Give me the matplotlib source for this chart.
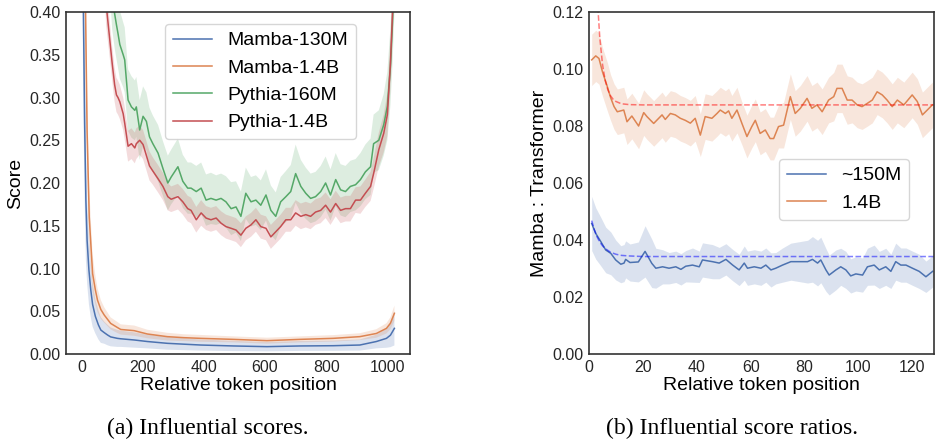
import matplotlib
matplotlib.use("Agg")
import matplotlib.pyplot as plt
import numpy as np

plt.rcParams["font.family"] = ["Liberation Sans", "DejaVu Sans"]

# ---- (a) influential scores ----
pythia_x = [0, 30, 60, 80, 90, 100, 108, 114, 119, 125, 136, 141, 152, 163, 174, 179, 190, 201, 212, 222,
            233, 250, 266, 282, 293, 315, 331, 347, 358, 375, 391, 407, 423, 440, 456, 472, 489, 505, 521, 537,
            554, 570, 586, 603, 619, 635, 651, 668, 684, 700, 717, 733, 749, 765, 782, 798, 814, 831, 847, 863,
            879, 896, 912, 928, 945, 955, 972, 988, 1000, 1010, 1017, 1023]
pythia160 = [2.5, 1.2, 0.75, 0.56, 0.48, 0.42, 0.398, 0.385, 0.375, 0.362, 0.35, 0.344, 0.297, 0.289, 0.285, 0.289,
             0.262, 0.278, 0.272, 0.254, 0.246, 0.235, 0.217, 0.200, 0.207, 0.219, 0.202, 0.194, 0.194, 0.190,
             0.194, 0.180, 0.182, 0.180, 0.182, 0.178, 0.170, 0.172, 0.161, 0.188, 0.178, 0.180, 0.174, 0.186,
             0.168, 0.161, 0.178, 0.184, 0.190, 0.211, 0.196, 0.188, 0.182, 0.184, 0.190, 0.200, 0.186, 0.204,
             0.192, 0.190, 0.196, 0.198, 0.204, 0.213, 0.219, 0.246, 0.250, 0.268, 0.29, 0.336, 0.39, 0.46]
pythia14 = [2.0, 1.0, 0.6, 0.41, 0.375, 0.34, 0.315, 0.303, 0.30, 0.295, 0.281, 0.27, 0.243, 0.246, 0.241, 0.246,
            0.250, 0.245, 0.232, 0.220, 0.214, 0.205, 0.196, 0.184, 0.181, 0.184, 0.178, 0.170, 0.168, 0.157,
            0.165, 0.159, 0.157, 0.159, 0.153, 0.149, 0.147, 0.145, 0.139, 0.147, 0.151, 0.157, 0.149, 0.147,
            0.137, 0.143, 0.149, 0.157, 0.157, 0.165, 0.161, 0.163, 0.161, 0.166, 0.168, 0.174, 0.166, 0.176,
            0.168, 0.170, 0.170, 0.180, 0.180, 0.188, 0.196, 0.211, 0.239, 0.258, 0.28, 0.34, 0.40, 0.46]
pythia160_err = [0.3, 0.1, 0.06, 0.05, 0.045, 0.04, 0.04, 0.04, 0.04, 0.04, 0.038, 0.038, 0.036, 0.036, 0.035,
                 0.035, 0.035, 0.035, 0.034, 0.034, 0.033, 0.033, 0.032, 0.032, 0.032, 0.033, 0.031, 0.03, 0.03,
                 0.03, 0.03, 0.03, 0.03, 0.029, 0.029, 0.03, 0.031, 0.03, 0.029, 0.03, 0.029, 0.029, 0.029, 0.03,
                 0.029, 0.028, 0.029, 0.03, 0.031, 0.034, 0.031, 0.03, 0.029, 0.029, 0.03, 0.031, 0.03, 0.031,
                 0.03, 0.03, 0.03, 0.03, 0.031, 0.032, 0.033, 0.034, 0.035, 0.036, 0.04, 0.045, 0.05, 0.06]
pythia14_err = [0.2, 0.06, 0.03, 0.025, 0.022, 0.02, 0.02, 0.02, 0.02, 0.02, 0.019, 0.019, 0.018, 0.018, 0.018,
                0.018, 0.017, 0.017, 0.017, 0.017, 0.016, 0.016, 0.016, 0.016, 0.015, 0.015, 0.015, 0.015, 0.015,
                0.015, 0.015, 0.014, 0.014, 0.014, 0.014, 0.014, 0.014, 0.014, 0.014, 0.014, 0.014, 0.014, 0.014,
                0.014, 0.014, 0.014, 0.014, 0.014, 0.014, 0.015, 0.015, 0.015, 0.015, 0.015, 0.015, 0.015, 0.015,
                0.015, 0.015, 0.015, 0.015, 0.015, 0.016, 0.016, 0.017, 0.018, 0.02, 0.022, 0.025, 0.03, 0.035, 0.04]

mamba130_x = [0, 3, 6, 10, 14, 18, 24, 30, 36, 45, 55, 63, 74, 85, 95, 117, 128, 172, 215, 280, 334, 389, 497,
              606, 714, 823, 910, 964, 997, 1010, 1023]
mamba130 = [0.9, 0.55, 0.40, 0.27, 0.18, 0.133, 0.098, 0.075, 0.058, 0.044, 0.034, 0.028, 0.025, 0.0222, 0.020,
            0.0183, 0.0178, 0.0164, 0.0146, 0.0125, 0.0115, 0.0105, 0.0094, 0.0086, 0.0094, 0.0097, 0.0105,
            0.0146, 0.0183, 0.022, 0.030]
mamba130_err = [0.2, 0.15, 0.12, 0.09, 0.07, 0.05, 0.04, 0.032, 0.026, 0.02, 0.017, 0.015, 0.013, 0.012, 0.011,
                0.010, 0.0095, 0.009, 0.008, 0.0075, 0.007, 0.0065, 0.006, 0.0055, 0.0058, 0.006, 0.0065, 0.008,
                0.011, 0.014, 0.02]

mamba14_x = [0, 6, 13, 18, 25, 30, 36, 45, 52, 63, 74, 95, 117, 128, 172, 215, 280, 334, 389, 497, 606, 714,
             823, 910, 964, 997, 1010, 1023]
mamba14 = [1.2, 0.65, 0.40, 0.26, 0.16, 0.13, 0.094, 0.075, 0.063, 0.052, 0.0456, 0.0358, 0.031, 0.0287, 0.0273,
           0.0234, 0.0203, 0.0191, 0.0183, 0.0171, 0.0156, 0.0171, 0.0183, 0.0203, 0.024, 0.030, 0.036, 0.0476]
mamba14_err = [0.15, 0.1, 0.07, 0.05, 0.035, 0.028, 0.022, 0.017, 0.014, 0.011, 0.009, 0.007, 0.0065, 0.006,
               0.006, 0.005, 0.0045, 0.004, 0.004, 0.0035, 0.0035, 0.0035, 0.0038, 0.004, 0.005, 0.006, 0.007, 0.009]

# ---- (b) score ratios ----
ratio150_x = [1, 2.5, 4.4, 6.2, 8.1, 9.9, 11.8, 13, 13.6, 15.2, 18.3, 20.8, 23.3, 24.8, 27.3, 29.7, 32.2, 34.1,
              35.9, 38.4, 40.9, 42.1, 45.8, 48.3, 50.8, 53.3, 55.7, 57.6, 58.8, 61.3, 63.8, 65.6, 67.5, 69.3,
              71.8, 74.9, 78, 81.1, 82.9, 84.8, 86, 87.9, 89.1, 91.6, 93.4, 95.3, 97.1, 99, 101.5, 103.3, 105.8,
              107.7, 110.1, 112, 113.8, 115.7, 117.6, 120, 122.5, 125, 127.5]
ratio150 = [0.0458, 0.0423, 0.0394, 0.0365, 0.0353, 0.033, 0.0315, 0.0319, 0.0332, 0.0321, 0.0323, 0.036, 0.0318,
            0.0301, 0.0306, 0.0301, 0.0306, 0.0297, 0.0308, 0.0312, 0.0306, 0.033, 0.0324, 0.0319, 0.0332, 0.0312,
            0.0295, 0.0319, 0.0301, 0.0306, 0.0301, 0.0312, 0.0295, 0.0301, 0.0312, 0.0324, 0.0324, 0.0324,
            0.0332, 0.0319, 0.033, 0.0295, 0.0277, 0.0295, 0.0306, 0.0295, 0.0274, 0.0281, 0.0277, 0.0306,
            0.0312, 0.0295, 0.0306, 0.029, 0.0324, 0.0312, 0.0312, 0.0301, 0.029, 0.0271, 0.029]
ratio150_err = [0.0095, 0.009, 0.0085, 0.008, 0.0075, 0.007, 0.0065, 0.0065, 0.0065, 0.0065, 0.007, 0.009, 0.0085,
                0.007, 0.006, 0.0055, 0.0055, 0.0055, 0.0055, 0.006, 0.0055, 0.006, 0.006, 0.0055, 0.0055, 0.0055,
                0.0055, 0.006, 0.006, 0.006, 0.006, 0.006, 0.006, 0.0055, 0.006, 0.0065, 0.007, 0.0075, 0.008,
                0.008, 0.008, 0.0075, 0.007, 0.007, 0.0065, 0.0065, 0.006, 0.006, 0.006, 0.0065, 0.007, 0.0065,
                0.0065, 0.006, 0.0065, 0.006, 0.006, 0.006, 0.006, 0.0055, 0.0055]

ratio14_x = [1, 2.5, 3.7, 5, 6.8, 8, 9.3, 10.5, 12.9, 14.1, 15.9, 18.4, 20.3, 21.5, 24, 27.1, 28.3, 30.2, 32, 33.9,
             35.7, 37.6, 39.4, 41.3, 43.1, 45.6, 47.5, 48.7, 50.6, 51.8, 53, 54.9, 56.7, 58.6, 60.4, 61.7, 63.5,
             65.4, 67.2, 68.5, 70.3, 72.2, 74.7, 76.5, 78.4, 80.9, 82.7, 84.6, 86.5, 88.9, 90.8, 92, 93.9, 95.8,
             97.6, 99.5, 101.3, 103.2, 105.1, 106.9, 108.8, 110.6, 112.5, 114.4, 116.8, 119.9, 121.8, 123.7,
             125.5, 127.4]
ratio14 = [0.1032, 0.1046, 0.1037, 0.099, 0.0938, 0.090, 0.0868, 0.085, 0.0856, 0.0815, 0.0835, 0.080, 0.0847,
           0.0833, 0.0809, 0.0839, 0.0823, 0.0844, 0.0839, 0.0827, 0.082, 0.081, 0.0827, 0.0768, 0.0833, 0.0827,
           0.0844, 0.0856, 0.0844, 0.0853, 0.0827, 0.0856, 0.081, 0.0763, 0.0798, 0.082, 0.0774, 0.0786, 0.0756,
           0.0756, 0.0798, 0.0803, 0.0903, 0.0844, 0.0862, 0.0897, 0.0862, 0.0874, 0.085, 0.0891, 0.0903, 0.0932,
           0.0932, 0.0891, 0.0891, 0.0874, 0.0868, 0.0879, 0.0891, 0.092, 0.0909, 0.0891, 0.0868, 0.0891, 0.0874,
           0.0909, 0.0886, 0.0839, 0.0856, 0.0874]
ratio14_err = [0.009, 0.009, 0.009, 0.0085, 0.0085, 0.008, 0.008, 0.008, 0.008, 0.008, 0.008, 0.008, 0.008, 0.008,
               0.008, 0.008, 0.008, 0.008, 0.008, 0.008, 0.008, 0.008, 0.008, 0.0075, 0.008, 0.008, 0.008, 0.008,
               0.008, 0.008, 0.008, 0.008, 0.0075, 0.0075, 0.0075, 0.0075, 0.0075, 0.0075, 0.0075, 0.0075, 0.0075,
               0.008, 0.008, 0.008, 0.008, 0.008, 0.008, 0.008, 0.008, 0.008, 0.0085, 0.0085, 0.0085, 0.0085,
               0.008, 0.008, 0.008, 0.008, 0.008, 0.008, 0.008, 0.008, 0.008, 0.008, 0.008, 0.008, 0.008, 0.008,
               0.008, 0.008]

# dashed fitted curves
fit14_x = [1, 2, 3, 4, 5, 6, 7, 8, 9, 10, 12, 15, 20, 128]
fit14 = [0.193, 0.151, 0.126, 0.111, 0.1017, 0.0960, 0.0927, 0.0906, 0.0893, 0.0886, 0.0878, 0.0875, 0.0874, 0.0874]
fit150_x = [1, 2, 3, 4, 5, 6, 8, 10, 12, 15, 20, 128]
fit150 = [0.0468, 0.0435, 0.0411, 0.0393, 0.0380, 0.0370, 0.0357, 0.0350, 0.0346, 0.0344, 0.0342, 0.0342]

c_blue, c_orange, c_green, c_red = "#4c72b0", "#dd8452", "#55a868", "#c44e52"

fig = plt.figure(figsize=(9.36, 4.4), dpi=100)
ax1 = fig.add_axes([66 / 936, 1 - 354 / 440, 344 / 936, 342 / 440])
ax2 = fig.add_axes([589 / 936, 1 - 354 / 440, 345 / 936, 342 / 440])


def band(ax, x, y, e, color, label):
    x = np.array(x); y = np.array(y); e = np.array(e)
    ax.fill_between(x, y - e, y + e, color=color, alpha=0.2, lw=0)
    ax.plot(x, y, color=color, lw=1.1, label=label)


band(ax1, mamba130_x, mamba130, mamba130_err, c_blue, "Mamba-130M")
band(ax1, mamba14_x, mamba14, mamba14_err, c_orange, "Mamba-1.4B")
band(ax1, pythia_x, pythia160, pythia160_err, c_green, "Pythia-160M")
band(ax1, pythia_x, pythia14, pythia14_err, c_red, "Pythia-1.4B")
ax1.set_xlim(-51, 1074)
ax1.set_ylim(0, 0.4)
ax1.set_yticks(np.arange(0, 0.41, 0.05))
ax1.set_xticks([0, 200, 400, 600, 800, 1000])
ax1.set_xlabel("Relative token position", fontsize=14, labelpad=2)
ax1.set_ylabel("Score", fontsize=14, labelpad=4)
ax1.legend(loc="upper left", bbox_to_anchor=(0.288, 0.965), borderaxespad=0, fontsize=14,
           frameon=True, edgecolor="#cccccc", fancybox=True)

band(ax2, ratio150_x, ratio150, ratio150_err, c_blue, "~150M")
band(ax2, ratio14_x, ratio14, ratio14_err, c_orange, "1.4B")
ax2.plot(fit14_x, fit14, "--", color="red", alpha=0.5, lw=1.1)
ax2.plot(fit150_x, fit150, "--", color="blue", alpha=0.5, lw=1.1)
ax2.set_xlim(0, 128)
ax2.set_ylim(0, 0.12)
ax2.set_yticks(np.arange(0, 0.121, 0.02))
ax2.set_xticks(range(0, 121, 20))
ax2.set_xlabel("Relative token position", fontsize=14, labelpad=2)
ax2.set_ylabel("Mamba : Transformer", fontsize=14, labelpad=3)
ax2.legend(loc="upper left", bbox_to_anchor=(0.551, 0.570), borderaxespad=0, fontsize=14,
           frameon=True, edgecolor="#cccccc", fancybox=True)

for ax in (ax1, ax2):
    ax.yaxis.set_major_formatter(matplotlib.ticker.FormatStrFormatter("%.2f"))
    ax.tick_params(length=0, labelsize=11.5, pad=4, colors="#262626")
    for s in ax.spines.values():
        s.set_color("#333333")
        s.set_linewidth(1.2)

fig.text(208 / 936, 1 - 428 / 440, "(a) Influential scores.", ha="center", va="center",
         family="Liberation Serif", fontsize=17)
fig.text(732 / 936, 1 - 428 / 440, "(b) Influential score ratios.", ha="center", va="center",
         family="Liberation Serif", fontsize=17)

fig.savefig("out.png", dpi=100)
